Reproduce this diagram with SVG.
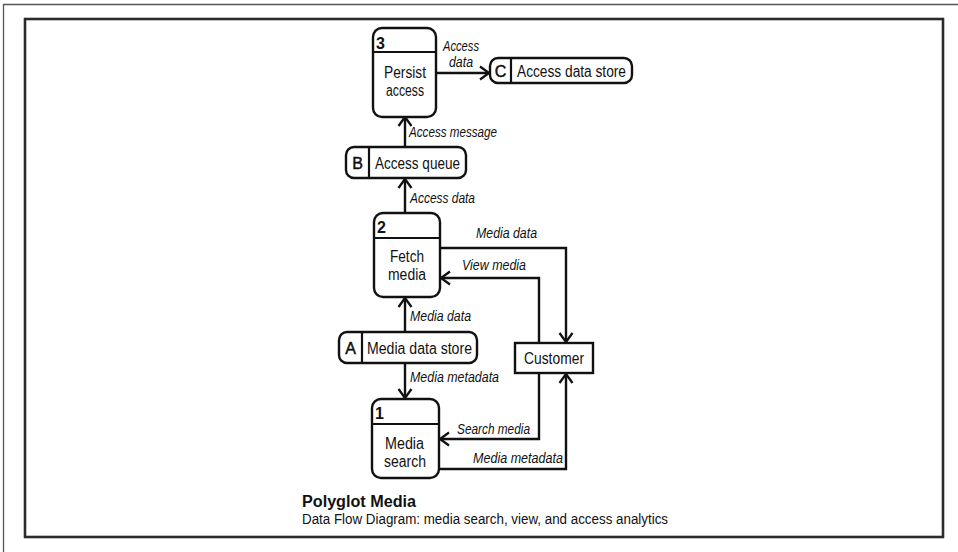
<svg xmlns="http://www.w3.org/2000/svg" width="958" height="552" viewBox="0 0 958 552">
  <style>
    .frame-outer { fill: none; stroke: #555; stroke-width: 1.3; }
    .frame-inner { fill: none; stroke: #2b2b2b; stroke-width: 2.6; }
    .box { fill: #fff; stroke: #111; stroke-width: 2.4; }
    .div { fill: none; stroke: #111; stroke-width: 2.2; }
    .flow { fill: none; stroke: #111; stroke-width: 2.4; marker-end: url(#arrow); }
    text { font-family: "Liberation Sans", Arial, sans-serif; fill: #111; }
    .t { font-size: 16px; }
    .key { font-size: 16px; stroke: #111; stroke-width: 0.5; }
    .num { font-size: 16px; font-weight: bold; }
    .lbl { font-size: 15px; font-style: italic; }
    .lbl-sm { font-size: 14px; font-style: italic; }
    .title { font-size: 16px; font-weight: bold; }
    .sub { font-size: 14px; }
  </style>
  <defs>
    <marker id="arrow" markerUnits="userSpaceOnUse" markerWidth="16" markerHeight="16" viewBox="-11 -8 13 16" refX="0" refY="0" orient="auto">
      <path d="M-9,-6.5 L0,0 L-9,6.5" fill="none" stroke="#111" stroke-width="2.3"/>
    </marker>
  </defs>

  <!-- page frames -->
  <path class="frame-outer" d="M3.5,552 V4.5 H958"/>
  <rect class="frame-inner" x="25" y="19" width="918" height="518"/>

  <!-- data flows -->
  <g id="connectors">
    <path class="flow" d="M436,73 H489"/>
    <path class="flow" d="M405,147 V117"/>
    <path class="flow" d="M405,213 V179"/>
    <path class="flow" d="M405,332 V298"/>
    <path class="flow" d="M405,363 V398"/>
    <path class="flow" d="M440,248 H566 V342"/>
    <path class="flow" d="M539,343 V278 H441"/>
    <path class="flow" d="M539,373 V439 H440"/>
    <path class="flow" d="M439,469 H566 V374"/>

    <text class="lbl-sm" x="443" y="51" textLength="36" lengthAdjust="spacingAndGlyphs">Access</text>
    <text class="lbl-sm" x="449" y="67" textLength="24" lengthAdjust="spacingAndGlyphs">data</text>
    <text class="lbl" x="409" y="137" textLength="88" lengthAdjust="spacingAndGlyphs">Access message</text>
    <text class="lbl" x="410" y="203" textLength="65" lengthAdjust="spacingAndGlyphs">Access data</text>
    <text class="lbl" x="476" y="238" textLength="61" lengthAdjust="spacingAndGlyphs">Media data</text>
    <text class="lbl" x="462" y="270" textLength="64" lengthAdjust="spacingAndGlyphs">View media</text>
    <text class="lbl" x="410" y="321" textLength="61" lengthAdjust="spacingAndGlyphs">Media data</text>
    <text class="lbl" x="410" y="382" textLength="89" lengthAdjust="spacingAndGlyphs">Media metadata</text>
    <text class="lbl" x="457" y="434" textLength="73" lengthAdjust="spacingAndGlyphs">Search media</text>
    <text class="lbl" x="473" y="463" textLength="90" lengthAdjust="spacingAndGlyphs">Media metadata</text>
  </g>

  <!-- process 3 -->
  <g id="process-3">
    <rect class="box" x="373" y="28" width="63" height="89" rx="9"/>
    <path class="div" d="M373,52 H436"/>
    <text class="num" x="376" y="49">3</text>
    <text class="t" x="384" y="78" textLength="42" lengthAdjust="spacingAndGlyphs">Persist</text>
    <text class="t" x="386" y="96" textLength="38" lengthAdjust="spacingAndGlyphs">access</text>
  </g>

  <!-- store C -->
  <g id="store-C">
    <rect class="box" x="490" y="58" width="142" height="25" rx="8"/>
    <path class="div" d="M511,58 V83"/>
    <text class="key" x="500.5" y="76.5" text-anchor="middle">C</text>
    <text class="t" x="517" y="76.5" textLength="109" lengthAdjust="spacingAndGlyphs">Access data store</text>
  </g>

  <!-- store B -->
  <g id="store-B">
    <rect class="box" x="346" y="147" width="120" height="31" rx="8"/>
    <path class="div" d="M369,147 V178"/>
    <text class="key" x="357.5" y="168.5" text-anchor="middle">B</text>
    <text class="t" x="375" y="168.5" textLength="85" lengthAdjust="spacingAndGlyphs">Access queue</text>
  </g>

  <!-- process 2 -->
  <g id="process-2">
    <rect class="box" x="374" y="213" width="66" height="84" rx="9"/>
    <path class="div" d="M374,238 H440"/>
    <text class="num" x="377" y="233">2</text>
    <text class="t" x="390" y="262" textLength="34" lengthAdjust="spacingAndGlyphs">Fetch</text>
    <text class="t" x="388" y="280" textLength="38" lengthAdjust="spacingAndGlyphs">media</text>
  </g>

  <!-- store A -->
  <g id="store-A">
    <rect class="box" x="339" y="332" width="138" height="31" rx="8"/>
    <path class="div" d="M362,332 V363"/>
    <text class="key" x="350.5" y="353.5" text-anchor="middle">A</text>
    <text class="t" x="367" y="353.5" textLength="105" lengthAdjust="spacingAndGlyphs">Media data store</text>
  </g>

  <!-- external entity -->
  <g id="customer">
    <rect class="box" x="515" y="343" width="78" height="30"/>
    <text class="t" x="524" y="364" textLength="60" lengthAdjust="spacingAndGlyphs">Customer</text>
  </g>

  <!-- process 1 -->
  <g id="process-1">
    <rect class="box" x="372" y="399" width="67" height="79" rx="9"/>
    <path class="div" d="M372,424 H439"/>
    <text class="num" x="375" y="419">1</text>
    <text class="t" x="385" y="449" textLength="39" lengthAdjust="spacingAndGlyphs">Media</text>
    <text class="t" x="384" y="467" textLength="42" lengthAdjust="spacingAndGlyphs">search</text>
  </g>

  <!-- caption -->
  <g id="caption">
    <text class="title" x="302" y="506.5" textLength="114" lengthAdjust="spacingAndGlyphs">Polyglot Media</text>
    <text class="sub" x="302" y="523.5" textLength="366" lengthAdjust="spacingAndGlyphs">Data Flow Diagram: media search, view, and access analytics</text>
  </g>
</svg>
